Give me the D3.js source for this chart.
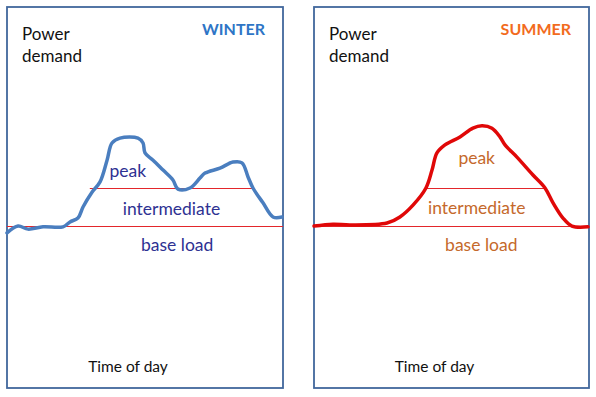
<!DOCTYPE html>
<html>
<head>
<meta charset="utf-8">
<script src="https://cdn.jsdelivr.net/npm/d3@7"></script>
<style>
  body { margin: 0; background: #fff; }
  svg { display: block; font-family: Lato, "Open Sans", sans-serif; }
</style>
</head>
<body>
<div id="chart"></div>
<script>
// demand curves, [hour of day, demand in arbitrary units]
const winterDemand = [
  [0, 40.7], [0.96, 42.5], [1.83, 41.7], [3.13, 42.3], [4.87, 42.3], [5.48, 43.6],
  [6.17, 44.6], [6.61, 47.5], [7.39, 51.4], [8.09, 54.1], [8.7, 59.8], [9.13, 64.3],
  [9.83, 65.6], [11.39, 65.6], [11.83, 64.3], [12.0, 61.7], [12.7, 59.8], [13.57, 57.2],
  [14.43, 54.6], [14.87, 52.2], [15.91, 52.5], [16.78, 55.1], [17.22, 56.4], [18.52, 57.7],
  [19.65, 59.3], [20.43, 59.1], [20.96, 55.4], [21.39, 52.5], [22.26, 48.6], [23.13, 44.9],
  [23.91, 44.9]
];
const summerDemand = [
  [0, 42.5], [1.66, 43.0], [3.14, 42.8], [6.37, 43.3], [7.5, 44.9], [8.64, 48.0],
  [9.77, 52.5], [10.3, 57.2], [10.73, 61.7], [11.43, 63.8], [12.74, 65.9], [13.87, 68.2],
  [14.66, 68.8], [15.53, 68.2], [16.23, 65.9], [16.67, 63.8], [17.71, 60.6], [19.11, 55.9],
  [20.16, 52.5], [20.86, 48.6], [21.73, 44.6], [22.51, 42.5], [23.91, 42.3]
];
const baseLevel = 42.5;
const peakLevel = 52.5;
// hours where the curve crosses the peak level
const winterPeakSpan = [7.2, 21.3];
const summerPeakSpan = [9.77, 20.16];

const layerLabels = ['peak', 'intermediate', 'base load'];
// [hour, demand] anchor for each label
const winterLabelPos = [[10.5, 55.5], [14.3, 45.5], [14.8, 35.9]];
const summerLabelPos = [[14.2, 58.9], [14.2, 45.7], [14.6, 35.9]];

const panels = [
  { title: 'WINTER', titleColor: '#2e75c6', lineColor: '#4a7ebf', labelColor: '#2e3192',
    data: winterDemand, span: winterPeakSpan, labelPos: winterLabelPos, x0: 7, x1: 283 },
  { title: 'SUMMER', titleColor: '#f26b1d', lineColor: '#e00808', labelColor: '#c5692b',
    data: summerDemand, span: summerPeakSpan, labelPos: summerLabelPos, x0: 314, x1: 589 }
];

const width = 596, height = 397;
const frameTop = 7, frameBottom = 388;

const svg = d3.select('#chart').append('svg')
  .attr('width', width)
  .attr('height', height);

const y = d3.scaleLinear().domain([0, 100]).range([frameBottom, frameTop]);

panels.forEach(p => {
  const x = d3.scaleLinear().domain([0, 24]).range([p.x0, p.x1]);
  const g = svg.append('g');

  // frame
  g.append('rect')
    .attr('x', p.x0).attr('y', frameTop)
    .attr('width', p.x1 - p.x0).attr('height', frameBottom - frameTop)
    .attr('fill', '#fff')
    .attr('stroke', '#41679c')
    .attr('stroke-width', 1.8);

  // layer boundaries
  g.append('line')
    .attr('x1', x(0)).attr('x2', x(24))
    .attr('y1', Math.round(y(baseLevel)) + 0.5).attr('y2', Math.round(y(baseLevel)) + 0.5)
    .attr('stroke', '#e3262b').attr('stroke-width', 1);
  g.append('line')
    .attr('x1', x(p.span[0])).attr('x2', x(p.span[1]))
    .attr('y1', Math.round(y(peakLevel)) + 0.5).attr('y2', Math.round(y(peakLevel)) + 0.5)
    .attr('stroke', '#e3262b').attr('stroke-width', 1);

  // demand curve
  const line = d3.line()
    .x(d => x(d[0]))
    .y(d => y(d[1]))
    .curve(d3.curveCatmullRom);
  g.append('path')
    .datum(p.data)
    .attr('d', line)
    .attr('fill', 'none')
    .attr('stroke', p.lineColor)
    .attr('stroke-width', 3.5)
    .attr('stroke-linejoin', 'round')
    .attr('stroke-linecap', 'round');

  // layer labels
  g.selectAll('.layer')
    .data(layerLabels)
    .enter()
    .append('text')
    .attr('class', 'layer')
    .attr('x', (d, i) => x(p.labelPos[i][0]))
    .attr('y', (d, i) => y(p.labelPos[i][1]))
    .attr('text-anchor', 'middle')
    .attr('font-size', 17.5)
    .attr('fill', p.labelColor)
    .text(d => d);

  // titles
  g.append('text')
    .attr('x', p.x0 + 15).attr('y', 40)
    .attr('font-size', 17).attr('fill', '#111')
    .text('Power');
  g.append('text')
    .attr('x', p.x0 + 15).attr('y', 62)
    .attr('font-size', 17).attr('fill', '#111')
    .text('demand');
  g.append('text')
    .attr('x', p.x1 - 18).attr('y', 35)
    .attr('text-anchor', 'end')
    .attr('font-size', 16).attr('font-weight', 'bold')
    .attr('fill', p.titleColor)
    .text(p.title);
  g.append('text')
    .attr('x', (p.x0 + p.x1) / 2 - 17).attr('y', 372)
    .attr('text-anchor', 'middle')
    .attr('font-size', 15.5).attr('fill', '#111')
    .text('Time of day');
});
</script>
</body>
</html>
